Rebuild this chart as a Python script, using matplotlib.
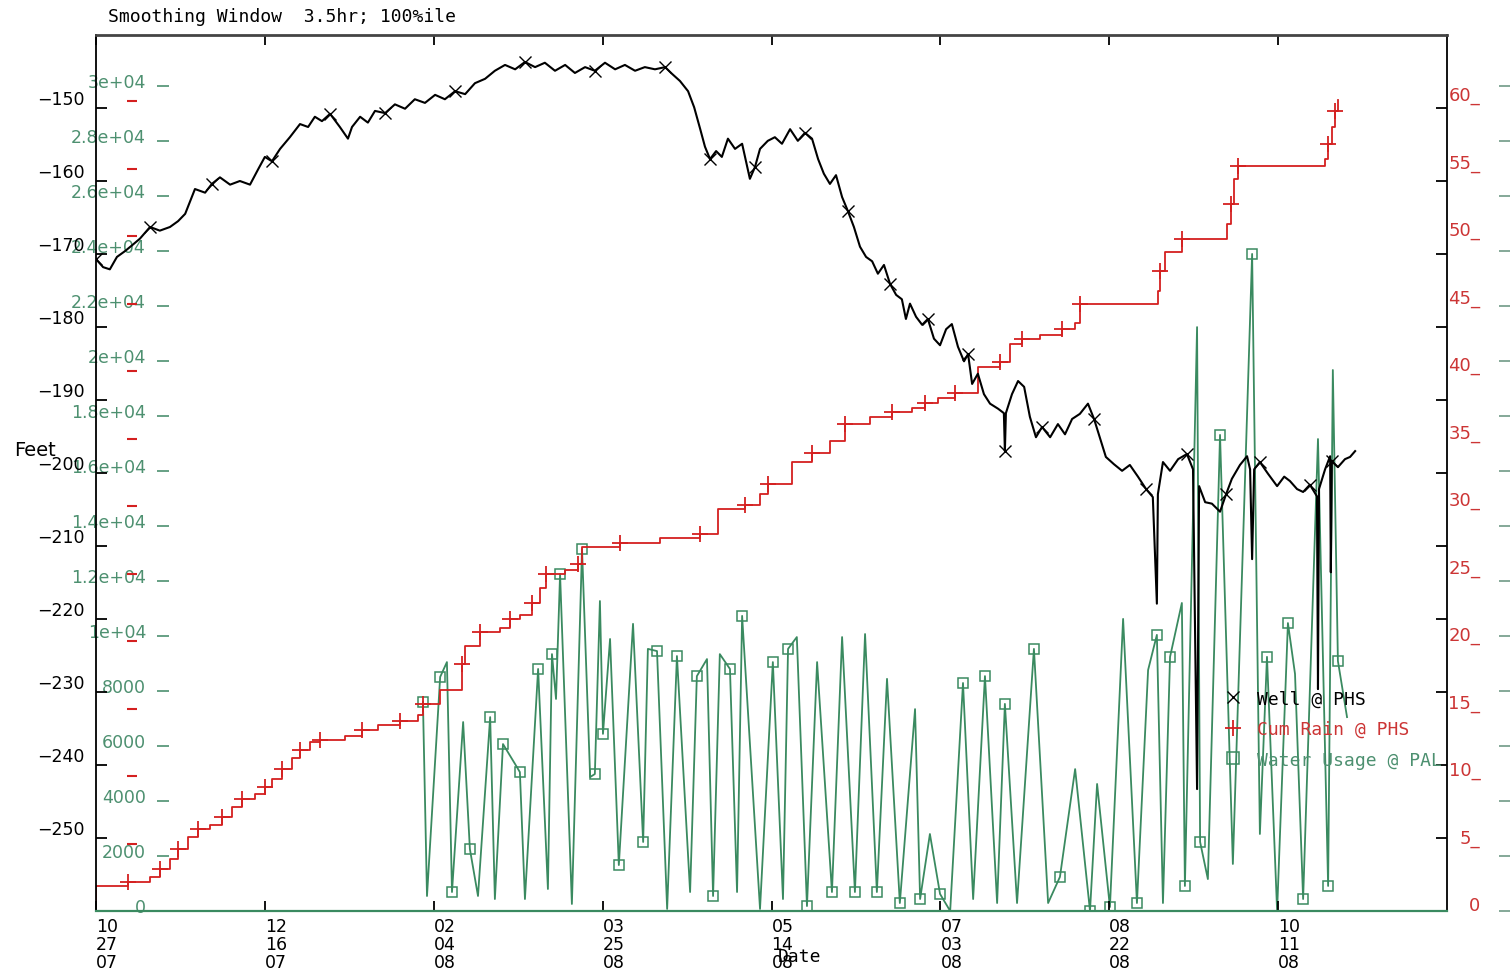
import matplotlib
matplotlib.use('Agg')
import matplotlib.pyplot as plt
from matplotlib.lines import Line2D
from matplotlib.transforms import ScaledTranslation, blended_transform_factory

plt.rcParams['axes.unicode_minus'] = False

# ---------------- data (x in days since 2007-10-27) ----------------
well_day = [0.0, 2.1, 4.1, 6.2, 8.6, 10.7, 13.0, 16.0, 18.9, 21.9, 24.3, 26.4, 29.3, 32.3, 34.3,
            36.7, 39.7, 42.6, 45.6, 48.0, 50.0, 52.1, 54.5, 57.4, 60.4, 62.8, 64.8, 66.9, 69.3,
            72.2, 74.6, 75.8, 78.2, 80.5, 82.6, 85.6, 88.5, 91.5, 94.4, 97.4, 100.4, 103.3,
            106.3, 109.3, 112.2, 115.2, 118.1, 121.1, 124.1, 127.0, 130.0, 132.9, 135.9, 138.9,
            141.8, 144.8, 147.7, 150.7, 153.7, 156.6, 159.6, 162.5, 165.5, 168.5, 170.5, 172.9,
            175.3, 177.1, 178.9, 180.3, 181.8, 183.6, 185.3, 187.1, 189.2, 191.3, 193.6, 195.1,
            196.6, 198.9, 201.0, 203.1, 205.5, 207.8, 209.9, 212.0, 213.8, 215.5, 217.3, 219.1,
            220.9, 222.6, 224.4, 226.2, 228.0, 229.8, 231.5, 233.3, 235.1, 236.9, 238.6, 239.8,
            241.0, 242.8, 244.6, 246.3, 248.1, 249.9, 251.7, 253.4, 255.2, 257.0, 258.2, 259.4,
            261.1, 262.9, 264.7, 267.1, 268.8, 269.1, 269.4, 271.2, 273.0, 274.8, 276.5, 278.3,
            280.1, 282.5, 284.8, 286.9, 289.0, 291.3, 293.7, 295.5, 297.3, 299.0, 301.4, 303.8,
            306.1, 308.5, 310.9, 312.9, 314.1, 314.4, 315.9, 318.0, 320.4, 323.0, 324.8, 326.0,
            326.6, 328.4, 330.4, 332.8, 334.6, 336.3, 338.7, 340.8, 341.7, 342.3, 342.9, 344.6,
            347.0, 349.7, 351.8, 353.5, 355.6, 357.4, 359.4, 361.5, 361.8, 362.1, 363.9, 365.4,
            365.6, 365.9, 367.7, 369.8, 371.3, 372.8]
well_ft = [-170.7, -171.8, -172.1, -170.4, -169.6, -168.8, -167.9, -166.3, -166.8, -166.3, -165.5,
           -164.5, -161.1, -161.6, -160.4, -159.5, -160.5, -160.0, -160.5, -158.4, -156.7, -157.3,
           -155.6, -154.0, -152.2, -152.6, -151.2, -151.8, -150.8, -152.6, -154.2, -152.6, -151.2,
           -152.0, -150.4, -150.7, -149.5, -150.1, -148.8, -149.3, -148.2, -148.8, -147.7, -148.1,
           -146.6, -146.0, -144.9, -144.1, -144.7, -143.7, -144.4, -143.8, -144.9, -144.1, -145.2,
           -144.4, -144.9, -143.8, -144.7, -144.1, -144.9, -144.4, -144.7, -144.4, -145.3, -146.3,
           -147.7, -149.9, -152.9, -155.3, -157.0, -155.9, -156.7, -154.2, -155.6, -154.9, -159.7,
           -158.1, -155.6, -154.5, -154.0, -154.9, -152.9, -154.5, -153.4, -154.2, -157.0, -159.0,
           -160.4, -159.2, -162.2, -164.1, -166.3, -169.0, -170.4, -171.0, -172.7, -171.5, -174.1,
           -175.6, -176.2, -178.9, -176.8, -178.6, -179.7, -178.9, -181.6, -182.5, -180.3, -179.6,
           -182.7, -184.7, -183.7, -187.8, -186.4, -189.2, -190.5, -191.2, -191.8, -197.0, -191.8,
           -189.2, -187.4, -188.2, -192.3, -195.1, -193.7, -195.1, -193.3, -194.7, -192.6, -191.9,
           -190.5, -192.6, -195.3, -197.8, -198.8, -199.7, -198.9, -200.5, -202.2, -203.3, -217.9,
           -202.9, -198.5, -199.7, -198.1, -197.4, -199.5, -243.3, -201.8, -204.0, -204.2, -205.3,
           -202.9, -200.8, -198.9, -197.7, -199.5, -211.8, -199.5, -198.5, -200.1, -201.8, -200.5,
           -201.1, -202.2, -202.6, -201.6, -203.2, -229.6, -202.2, -199.5, -197.7, -213.6, -198.4,
           -199.2, -198.1, -197.8, -197.0]

rain_day = [0.0, 0.05, 9.5, 16.0, 18.9, 21.9, 24.3, 27.2, 30.2, 33.8, 37.3, 40.3, 43.2, 47.1, 50.0,
            52.1, 55.1, 58.0, 60.4, 63.4, 66.3, 73.7, 78.8, 83.5, 90.0, 95.3, 96.8, 101.9, 108.4,
            109.3, 113.7, 119.6, 122.6, 125.5, 129.1, 131.5, 133.2, 138.9, 142.7, 143.9, 155.1,
            167.0, 178.8, 184.2, 192.2, 196.6, 199.0, 206.1, 212.0, 217.3, 221.8, 229.2, 235.7,
            241.6, 245.4, 249.3, 254.3, 261.1, 267.7, 270.6, 274.2, 279.5, 286.0, 289.9, 291.3,
            314.4, 315.0, 316.5, 321.5, 334.9, 336.0, 336.9, 338.1, 363.9, 364.8, 366.0, 366.9,
            367.7]
rain_in = [0.0, 1.85, 2.15, 2.5, 3.1, 3.85, 4.6, 5.5, 6.1, 6.4, 7.0, 7.7, 8.3, 8.7, 9.2, 9.8, 10.5,
           11.3, 11.9, 12.5, 12.7, 13.0, 13.4, 13.8, 14.1, 14.5, 15.3, 16.4, 18.3, 19.6, 20.7, 21.0,
           21.6, 21.9, 22.8, 23.9, 25.0, 25.3, 25.7, 27.0, 27.3, 27.6, 27.9, 29.8, 30.1, 30.9, 31.6,
           33.3, 33.9, 34.8, 36.1, 36.6, 37.0, 37.3, 37.6, 38.0, 38.4, 40.3, 40.7, 42.0, 42.4, 42.7,
           43.1, 43.6, 45.0, 45.9, 47.4, 48.8, 49.8, 50.9, 52.4, 54.2, 55.2, 55.7, 56.8, 58.1, 59.3,
           60.1]

water_day = [96.8, 98.0, 101.9, 103.9, 105.4, 108.7, 110.7, 113.1, 116.7, 118.1, 120.5, 124.1,
             125.5, 127.0, 130.9, 133.8, 135.0, 136.2, 137.4, 140.9, 143.9, 146.3, 147.7, 149.2,
             150.1, 152.2, 154.8, 159.0, 162.0, 163.4, 166.1, 169.1, 172.0, 175.9, 177.9, 180.9,
             182.7, 184.7, 187.7, 189.8, 191.3, 196.6, 200.4, 203.4, 204.9, 207.5, 210.5, 213.5,
             217.9, 220.9, 224.7, 227.7, 231.2, 234.2, 238.0, 242.5, 244.0, 246.9, 249.9, 252.9,
             256.7, 259.7, 263.2, 266.8, 269.1, 272.7, 277.7, 281.9, 285.4, 289.9, 294.3, 296.4,
             300.2, 304.1, 308.2, 311.5, 314.1, 315.9, 318.0, 321.5, 322.4, 326.0, 326.9, 329.2,
             332.8, 336.6, 342.3, 344.6, 346.7, 349.7, 352.9, 355.0, 357.4, 361.8, 364.8, 366.2,
             367.7, 370.4]
water_use = [7600, 545, 8510, 9050, 690, 6870, 2250, 545, 7050, 435, 6070, 5340, 5050, 435, 8800,
             800, 9340, 7710, 12250, 255, 13160, 4870, 4980, 11270, 6440, 9890, 1670, 10440, 2510,
             9530, 9450, 75, 9270, 690, 8540, 9160, 545, 9340, 8800, 690, 10730, 75, 9050, 435, 9530,
             9960, 180, 9050, 690, 9960, 690, 10070, 690, 8440, 290, 7340, 435, 2800, 620, 0, 8290,
             435, 8540, 290, 7530, 290, 9530, 290, 1240, 5160, 0, 4620, 145, 10620, 290, 8760, 10040,
             290, 9240, 11200, 910, 21230, 2510, 1160, 17310, 1710, 23890, 2800, 9240, 0, 10470,
             8620, 435, 17160, 910, 19670, 9090, 7050]

x_ticks = [0, 50, 100, 150, 200, 250, 300, 350]
x_labels = ["10\n27\n07", "12\n16\n07", "02\n04\n08", "03\n25\n08",
            "05\n14\n08", "07\n03\n08", "08\n22\n08", "10\n11\n08"]
feet_ticks = [-150, -160, -170, -180, -190, -200, -210, -220, -230, -240, -250]
feet_labels = ["\u2212150", "\u2212160", "\u2212170", "\u2212180", "\u2212190", "\u2212200",
               "\u2212210", "\u2212220", "\u2212230", "\u2212240", "\u2212250"]
rain_ticks = [0, 5, 10, 15, 20, 25, 30, 35, 40, 45, 50, 55, 60]
rain_labels = ["0", "5_", "10_", "15_", "20_", "25_", "30_", "35_", "40_", "45_", "50_", "55_", "60_"]
water_ticks = [0, 2000, 4000, 6000, 8000, 10000, 12000, 14000, 16000, 18000, 20000, 22000,
               24000, 26000, 28000, 30000]
water_labels = ["0", "2000", "4000", "6000", "8000", "1e+04", "1.2e+04", "1.4e+04", "1.6e+04",
                "1.8e+04", "2e+04", "2.2e+04", "2.4e+04", "2.6e+04", "2.8e+04", "3e+04"]

# ---------------- styling ----------------
GREEN = '#3a8a60'
GREEN_TXT = '#4d9070'
RED = '#d42020'
RED_TXT = '#cc3535'
MONO = 'DejaVu Sans Mono'
FS = 12.5

W, H = 1510, 979
fig = plt.figure(figsize=(W / 100, H / 100), dpi=100)
L, R, B, T = 96, 1447, 912, 36
ax = fig.add_axes([L / W, 1 - B / H, (R - L) / W, (B - T) / H])
ax3 = ax.twinx()   # water usage
ax2 = ax.twinx()   # cumulative rain
ax.set_zorder(5)
ax.patch.set_visible(False)

def shift_up(labels, px):
    for lab in labels:
        lab.set_transform(lab.get_transform() + ScaledTranslation(0, px / 100, fig.dpi_scale_trans))

# water usage
ax3.plot(water_day, water_use, color=GREEN, lw=1.3, marker='s', ms=7, mfc='none', mec=GREEN,
         mew=1.1, markevery=2)
ax3.set_ylim(0, 31850)
ax3.set_yticks(water_ticks)
ax3.set_yticklabels(water_labels)
ax3.tick_params(axis='y', left=True, labelleft=True, right=False, labelright=False,
                length=0, pad=-36, labelsize=FS, labelcolor=GREEN_TXT)
shift_up(ax3.get_yticklabels(), 6)
bt3 = blended_transform_factory(ax3.transAxes, ax3.transData)
ax3.plot([(163 - L) / (R - L)] * (len(water_ticks) - 1), water_ticks[1:], transform=bt3,
         ls='none', marker='_', ms=8, mew=1.2, color=GREEN_TXT, clip_on=False)
ax3.plot([(1505 - L) / (R - L)] * len(water_ticks), water_ticks, transform=bt3,
         ls='none', marker='_', ms=9, mew=1.2, color='#6f9a86', clip_on=False)

# cumulative rain
ax2.plot(rain_day, rain_in, color=RED, lw=1.3, drawstyle='steps-post', marker='+', ms=11,
         mew=1.3, markevery=2)
ax2.set_ylim(0, 64.9)
ax2.set_yticks(rain_ticks)
ax2.set_yticklabels(rain_labels)
ax2.tick_params(axis='y', right=True, left=False, length=0, pad=24, labelsize=13,
                labelcolor=RED_TXT)
for lab in ax2.get_yticklabels():
    lab.set_ha('right')
shift_up(ax2.get_yticklabels(), 8)
bt2 = blended_transform_factory(ax2.transAxes, ax2.transData)
ax2.plot([(132 - L) / (R - L)] * (len(rain_ticks) - 1), rain_ticks[1:], transform=bt2,
         ls='none', marker='_', ms=7, mew=1.5, color=RED, clip_on=False)

for a in (ax2, ax3):
    for s in a.spines.values():
        s.set_visible(False)

# well
ax.plot(well_day, well_ft, color='black', lw=1.5, marker='x', ms=8, mew=1.0, markevery=7)
ax.set_xlim(0, 400)
ax.set_ylim(-260, -140)
ax.set_yticks(feet_ticks)
ax.set_yticklabels(feet_labels)
ax.tick_params(axis='y', direction='in', length=8, width=1.3, left=True, right=True,
               labelsize=FS, pad=8)
shift_up(ax.get_yticklabels(), 11)
ax.set_xticks(x_ticks)
ax.set_xticklabels(x_labels, ha='left', linespacing=1.0)
ax.tick_params(axis='x', direction='in', length=7, width=1.3, top=True, bottom=True,
               labelsize=FS, pad=4)
for side in ('top', 'left', 'right'):
    ax.spines[side].set_color('black')
    ax.spines[side].set_linewidth(1.3)
ax.spines['top'].set_color('#444444')
ax.spines['top'].set_linewidth(2)
ax.spines['bottom'].set_color(GREEN)
ax.spines['bottom'].set_linewidth(1.6)

ax.text((108 - L) / (R - L), 1 + (T - 17) / (B - T), 'Smoothing Window  3.5hr; 100%ile',
        transform=ax.transAxes, ha='left', va='center', family=MONO, fontsize=13)
ax.text((35 - L) / (R - L), (B - 450) / (B - T), 'Feet', transform=ax.transAxes,
        ha='center', va='center', fontsize=14)
ax.text((800 - L) / (R - L), -(957 - B) / (B - T), 'Date', transform=ax.transAxes,
        ha='center', va='center', family=MONO, fontsize=13)

handles = [Line2D([], [], ls='none', marker='x', color='black', ms=9, mew=1.0),
           Line2D([], [], ls='none', marker='+', color=RED, ms=11, mew=1.3),
           Line2D([], [], ls='none', marker='s', mfc='none', mec=GREEN, ms=8, mew=1.1)]
leg = ax.legend(handles, ['Well @ PHS', 'Cum Rain @ PHS', 'Water Usage @ PAL'],
                loc='upper left', bbox_to_anchor=((1208 - L) / (R - L), (B - 674) / (B - T)),
                frameon=False, prop={'family': MONO, 'size': 13}, handlelength=1.0,
                handletextpad=0.8, labelspacing=0.7, borderpad=0.4,
                labelcolor=['black', RED_TXT, GREEN_TXT])

fig.savefig('out.png', dpi=100)
